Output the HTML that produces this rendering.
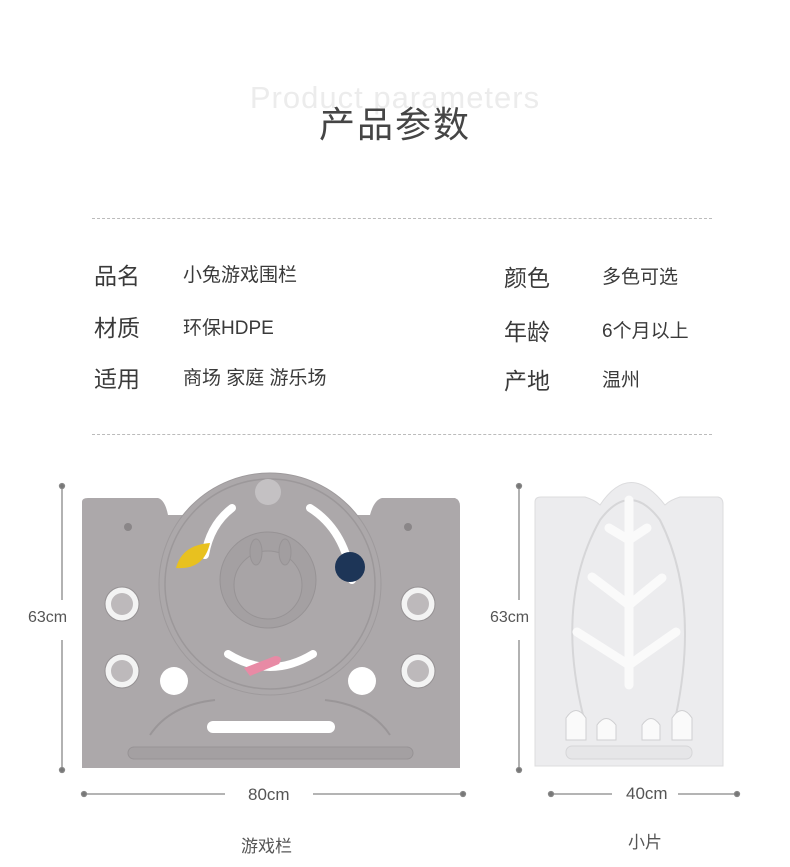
<!DOCTYPE html>
<html><head><meta charset="utf-8"><style>
body{margin:0;width:790px;height:867px;background:#fff;position:relative;overflow:hidden;font-family:"Liberation Sans","Noto Sans CJK SC",sans-serif;color:#3a3a3a}
.t{position:absolute;white-space:nowrap}
</style></head><body>
<div class="t" style="left:0;width:790px;text-align:center;top:80px;font-size:31px;color:#ececec;letter-spacing:1px">Product parameters</div>
<div class="t" style="left:0;width:790px;text-align:center;top:96px;font-size:36px;color:#454545;letter-spacing:2px">产品参数</div>
<div style="position:absolute;left:92px;width:620px;top:218px;border-top:1px dashed #bbb"></div>
<div style="position:absolute;left:92px;width:620px;top:434px;border-top:1px dashed #bbb"></div>
<div class="t" style="left:94px;top:257px;font-size:23px">品名</div>
<div class="t" style="left:183px;top:260px;font-size:19px">小兔游戏围栏</div>
<div class="t" style="left:94px;top:309px;font-size:23px">材质</div>
<div class="t" style="left:183px;top:313px;font-size:19px">环保HDPE</div>
<div class="t" style="left:94px;top:360px;font-size:23px">适用</div>
<div class="t" style="left:183px;top:363px;font-size:19px">商场 家庭 游乐场</div>
<div class="t" style="left:504px;top:259px;font-size:23px">颜色</div>
<div class="t" style="left:602px;top:262px;font-size:19px">多色可选</div>
<div class="t" style="left:504px;top:313px;font-size:23px">年龄</div>
<div class="t" style="left:602px;top:316px;font-size:19px">6个月以上</div>
<div class="t" style="left:504px;top:362px;font-size:23px">产地</div>
<div class="t" style="left:602px;top:365px;font-size:19px">温州</div>

<svg width="790" height="867" style="position:absolute;left:0;top:0">
<g stroke="#888" stroke-width="1.3" fill="#777">
<line x1="62" y1="486" x2="62" y2="600"/><line x1="62" y1="640" x2="62" y2="770"/>
<circle cx="62" cy="486" r="2.5"/><circle cx="62" cy="770" r="2.5"/>
<line x1="84" y1="794" x2="225" y2="794"/><line x1="313" y1="794" x2="463" y2="794"/>
<circle cx="84" cy="794" r="2.5"/><circle cx="463" cy="794" r="2.5"/>
<line x1="519" y1="486" x2="519" y2="600"/><line x1="519" y1="640" x2="519" y2="770"/>
<circle cx="519" cy="486" r="2.5"/><circle cx="519" cy="770" r="2.5"/>
<line x1="551" y1="794" x2="612" y2="794"/><line x1="678" y1="794" x2="737" y2="794"/>
<circle cx="551" cy="794" r="2.5"/><circle cx="737" cy="794" r="2.5"/>
</g>
<!-- big panel -->
<path d="M82 502 Q82 498 88 498 L158 498 Q165 500 168 515 L370 515 Q374 500 382 498 L455 498 Q460 500 460 506 L460 768 L82 768 Z" fill="#aca8aa"/>
<circle cx="270" cy="584" r="111" fill="#aca8aa" stroke="#9e9a9c" stroke-width="1"/>
<circle cx="270" cy="584" r="105" fill="none" stroke="#9c989a" stroke-width="1.5"/>
<circle cx="268" cy="492" r="13" fill="#c4c1c3"/>
<circle cx="268" cy="580" r="48" fill="#a4a0a2" stroke="#979395"/>
<circle cx="268" cy="585" r="34" fill="#a8a4a6" stroke="#979395"/>
<ellipse cx="256" cy="552" rx="6" ry="13" fill="#a29ea0" stroke="#979395"/>
<ellipse cx="285" cy="552" rx="6" ry="13" fill="#a29ea0" stroke="#979395"/>
<path d="M205 555 Q210 525 232 508" stroke="#fff" stroke-width="8" fill="none" stroke-linecap="round"/>
<path d="M310 508 Q345 530 352 580" stroke="#fff" stroke-width="8" fill="none" stroke-linecap="round"/>
<path d="M228 654 Q270 680 313 654" stroke="#fff" stroke-width="8" fill="none" stroke-linecap="round"/>
<path d="M176 568 Q182 545 210 543 Q204 570 176 568Z" fill="#e8c11f"/>
<circle cx="350" cy="567" r="15" fill="#1d3557"/>
<path d="M244 668 L275 656 Q284 656 279 664 L250 676 Z" fill="#e88aa5"/>
<g fill="#f3f3f3" stroke="#959193">
<circle cx="122" cy="604" r="17"/><circle cx="122" cy="671" r="17"/>
<circle cx="418" cy="604" r="17"/><circle cx="418" cy="671" r="17"/>
</g>
<g fill="#bdb9bb"><circle cx="122" cy="604" r="11"/><circle cx="122" cy="671" r="11"/><circle cx="418" cy="604" r="11"/><circle cx="418" cy="671" r="11"/></g>
<circle cx="174" cy="681" r="14" fill="#fff"/><circle cx="362" cy="681" r="14" fill="#fff"/>
<circle cx="128" cy="527" r="4" fill="#8a8688"/><circle cx="408" cy="527" r="4" fill="#8a8688"/>
<rect x="207" y="721" width="128" height="12" rx="6" fill="#fff"/>
<path d="M150 735 Q170 705 215 700" stroke="#9a9698" fill="none" stroke-width="2"/>
<path d="M390 735 Q370 705 325 700" stroke="#9a9698" fill="none" stroke-width="2"/>
<rect x="128" y="747" width="285" height="12" rx="6" fill="#a4a0a2" stroke="#979395"/>
<!-- small panel -->
<path d="M535 502 Q535 497 541 497 L585 497 Q595 500 600 505 Q630 460 665 505 Q670 500 680 497 L718 497 Q723 498 723 504 L723 766 L535 766 Z" fill="#ececee" stroke="#dcdcde"/>
<path d="M583 715 Q555 600 600 520 Q630 480 660 520 Q700 600 676 715" fill="none" stroke="#d6d6d8" stroke-width="2"/>
<g stroke="#fafafa" stroke-width="9" fill="none" stroke-linecap="round" stroke-linejoin="round">
<path d="M629 500 L629 685"/><path d="M609 528 L629 540 L647 528"/>
<path d="M592 577 L629 605 L662 578"/><path d="M577 632 L629 665 L676 632"/>
</g>
<g fill="#fafafa" stroke="#cfcfd1">
<path d="M566 740 L566 718 Q576 703 586 718 L586 740Z"/><path d="M597 740 L597 725 Q606 712 616 725 L616 740Z"/>
<path d="M642 740 L642 725 Q651 712 660 725 L660 740Z"/><path d="M672 740 L672 718 Q682 703 692 718 L692 740Z"/>
</g>
<rect x="566" y="746" width="126" height="13" rx="6" fill="#e6e6e8" stroke="#d6d6d8"/>
</svg>
<div class="t" style="left:28px;top:609px;font-size:16px;color:#555">63cm</div>
<div class="t" style="left:490px;top:609px;font-size:16px;color:#555">63cm</div>
<div class="t" style="left:248px;top:785px;font-size:17px;color:#555">80cm</div>
<div class="t" style="left:626px;top:784px;font-size:17px;color:#555">40cm</div>
<div class="t" style="left:241px;top:832px;font-size:17px;color:#555">游戏栏</div>
<div class="t" style="left:628px;top:828px;font-size:17px;color:#555">小片</div>
</body></html>
